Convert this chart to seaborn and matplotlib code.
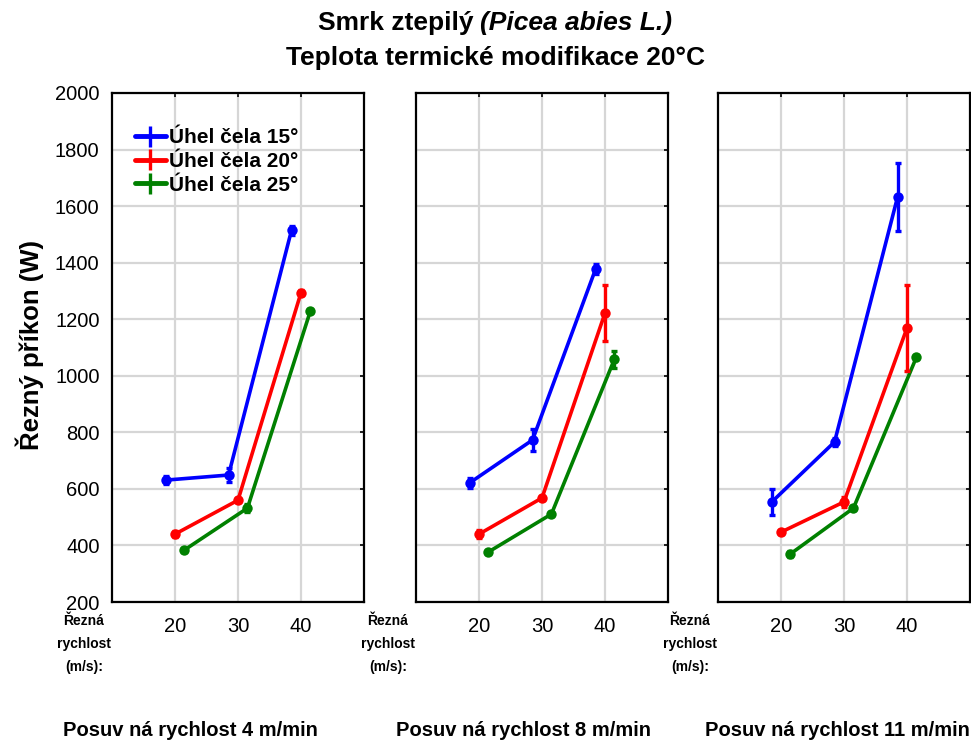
import numpy as np
import pandas as pd
import matplotlib
matplotlib.use("Agg")
import matplotlib.pyplot as plt
import seaborn as sns

# data
speeds = [20, 30, 40]                       # cutting speed (m/s)
feeds = ["4", "8", "11"]                    # feed rate (m/min)
angles = ["Úhel čela 15°", "Úhel čela 20°", "Úhel čela 25°"]

power_15 = [[631, 649, 1515], [621, 773, 1377], [553, 766, 1632]]
power_20 = [[440, 560, 1294], [440, 568, 1222], [447, 554, 1169]]
power_25 = [[384, 532, 1230], [377, 511, 1059], [370, 532, 1066]]

err_15 = [[14, 24, 16], [18, 38, 18], [45, 15, 120]]
err_20 = [[10, 8, 10], [14, 8, 98], [8, 18, 152]]
err_25 = [[6, 14, 6], [6, 8, 30], [10, 6, 6]]

colors = ["#0000ff", "#ff0000", "#008000"]
dodge = [-0.15, 0.0, 0.15]

rows = []
for p, feed in enumerate(feeds):
    for a, (vals, errs) in enumerate([(power_15, err_15), (power_20, err_20), (power_25, err_25)]):
        for i, s in enumerate(speeds):
            rows.append({"feed": feed, "angle": angles[a], "pos": i + 1 + dodge[a],
                         "power": vals[p][i], "err": errs[p][i]})
df = pd.DataFrame(rows)

sns.set_style("white")
plt.rcParams["font.family"] = ["Liberation Sans", "DejaVu Sans"]
plt.rcParams["text.color"] = "black"
plt.rcParams["xtick.color"] = "black"
plt.rcParams["ytick.color"] = "black"

fig = plt.figure(figsize=(9.71, 7.43), dpi=100)
W, H = 971, 743
lefts = [112, 416, 718]
pw = 252
bottom, top = 602, 93

legend_handles = []
for p, feed in enumerate(feeds):
    ax = fig.add_axes([lefts[p] / W, 1 - bottom / H, pw / W, (bottom - top) / H])
    sub = df[df["feed"] == feed]
    sns.lineplot(data=sub, x="pos", y="power", hue="angle", palette=colors,
                 hue_order=angles, marker="o", markersize=7.5, markeredgewidth=0,
                 linewidth=2.6, legend=False, ax=ax, sort=True)
    for a, ang in enumerate(angles):
        d = sub[sub["angle"] == ang]
        ax.errorbar(d["pos"], d["power"], yerr=d["err"], fmt="none",
                    ecolor=colors[a], elinewidth=2.4, capsize=2.5, capthick=2.4)
        if p == 0:
            h = ax.errorbar([], [], yerr=[], color=colors[a], lw=3.5,
                            elinewidth=2.4, capsize=3, capthick=2.4)
            legend_handles.append(h)
    ax.set_xlim(0, 4)
    ax.set_ylim(200, 2000)
    ax.set_xticks([1, 2, 3])
    ax.set_xticklabels([str(s) for s in speeds])
    ax.set_yticks(np.arange(200, 2001, 200))
    ax.grid(True, color="#d6d6d6", linewidth=1.6)
    ax.set_axisbelow(True)
    ax.tick_params(direction="in", length=3, width=1.2, top=True, right=True,
                   labelsize=14.5, color="black", labelcolor="black")
    ax.tick_params(axis="x", pad=11)
    ax.tick_params(axis="y", pad=9)
    if p == 0:
        ax.set_yticklabels([str(v) for v in range(200, 2001, 200)])
    else:
        ax.set_yticklabels([])
    ax.set_xlabel("")
    ax.set_ylabel("")
    for sp in ax.spines.values():
        sp.set_color("black")
        sp.set_linewidth(1.6)

    # x label block left of the ticks
    fig.text((lefts[p] - 28) / W, 1 - 644 / H, "Řezná\nrychlost\n(m/s):",
             ha="center", va="center", fontsize=10, fontweight="bold", linespacing=1.8)

    if p == 0:
        ax.legend(legend_handles, angles, loc="upper left", bbox_to_anchor=(0.04, 0.955),
                  frameon=False, prop={"weight": "bold", "size": 15},
                  handlelength=1.5, handletextpad=0.15, labelspacing=0.22,
                  borderaxespad=0.2)

# bottom labels
for cx, feed in zip([190, 523, 837], feeds):
    fig.text(cx / W, 1 - 730 / H, f"Posuv ná rychlost {feed} m/min",
             ha="center", va="center", fontsize=14.5, fontweight="bold")

# y label
fig.text(30 / W, 1 - 345 / H, "Řezný příkon (W)", rotation=90, ha="center",
         va="center", fontsize=18.5, fontweight="bold")

# title: line 1 has mixed roman / italic parts
cx = 495
t1 = fig.text(0, 1 - 23 / H, "Smrk ztepilý ", fontsize=19, fontweight="bold",
              va="center", ha="left")
t2 = fig.text(0, 1 - 23 / H, "(Picea abies L.)", fontsize=19, fontweight="bold",
              style="italic", va="center", ha="left")
renderer = fig.canvas.get_renderer()
w1 = t1.get_window_extent(renderer).width
w2 = t2.get_window_extent(renderer).width
x0 = cx - (w1 + w2) / 2
t1.set_x(x0 / W)
t2.set_x((x0 + w1) / W)
fig.text(cx / W, 1 - 58 / H, "Teplota termické modifikace 20°C", fontsize=19,
         fontweight="bold", ha="center", va="center")

fig.savefig("out.png", dpi=100)
